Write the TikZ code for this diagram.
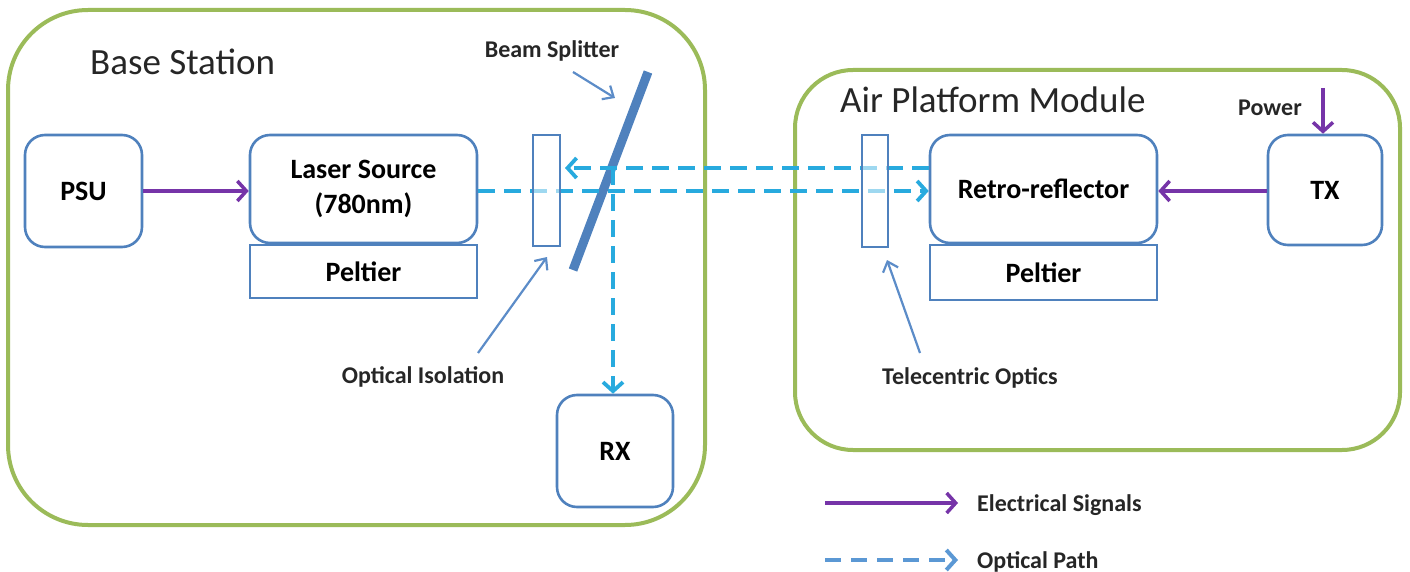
\documentclass[tikz,border=0pt]{standalone}
\usepackage{fontspec}
\setmainfont{Carlito}
\usetikzlibrary{arrows.meta}
\definecolor{gframe}{RGB}{155,187,89}
\definecolor{bblue}{RGB}{79,129,189}
\definecolor{epurple}{RGB}{118,52,168}
\definecolor{ocyan}{RGB}{40,170,222}
\definecolor{lblue}{RGB}{91,152,212}
\definecolor{pblue}{RGB}{92,140,200}
\tikzset{
  container/.style={draw=gframe, line width=4pt, rounded corners=#1, fill=none, inner sep=0pt},
  rbox/.style={draw=bblue, line width=2.6pt, rounded corners=20pt, fill=white, inner sep=0pt, align=center, font=\fontsize{28}{35}\selectfont\bfseries},
  sbox/.style={draw=bblue, line width=2.6pt, fill=white, inner sep=0pt, align=center, font=\fontsize{28}{35}\selectfont\bfseries},
  optic/.style={draw=bblue, line width=2.4pt, fill=white, fill opacity=0.55, draw opacity=1, inner sep=0pt},
  heading/.style={font=\fontsize{37}{40}\selectfont, inner sep=0pt, text=black!85},
  lbl/.style={font=\fontsize{24}{27}\selectfont\bfseries, inner sep=0pt, text=black!85},
  elec/.style={draw=epurple, line width=3.5pt, -{Straight Barb[length=9pt,width=20pt]}},
  opath/.style={draw=ocyan, line width=3.8pt, dash pattern=on 17pt off 9pt, -{Straight Barb[length=9pt,width=20pt]}},
  legopt/.style={draw=lblue, line width=4pt, dash pattern=on 16pt off 10pt, -{Straight Barb[length=9pt,width=20pt]}},
  pointer/.style={draw=pblue, line width=2.2pt, -{Straight Barb[length=9pt,width=16pt]}},
  splitter/.style={draw=bblue, line width=9pt}
}
\begin{document}
\begin{tikzpicture}[x=1pt,y=-1pt]
\useasboundingbox (0,0) rectangle (1410,572);
% containers
\node[container=80pt, minimum width=697pt, minimum height=515pt] (base) at (356.5,267.5) {};
\node[container=58pt, minimum width=605pt, minimum height=380pt] (air) at (1097.5,260) {};
\node[heading, anchor=base west] (basettl) at (90,75) {Base Station};
\node[heading, anchor=base west] (airttl) at (840,113) {Air Platform Module};
% base station boxes
\node[rbox, minimum width=117pt, minimum height=112pt] (psu) at (83.5,191) {PSU};
\node[sbox, minimum width=227pt, minimum height=53pt] (peltL) at (363.5,271.5) {Peltier};
\node[rbox, minimum width=227pt, minimum height=108pt] (laser) at (363.5,189) {Laser Source\\(780nm)};
\node[rbox, minimum width=116pt, minimum height=112pt] (rx) at (615,451) {RX};
% air module boxes
\node[sbox, minimum width=227pt, minimum height=55pt] (peltR) at (1043.5,272.5) {Peltier};
\node[rbox, minimum width=227pt, minimum height=108pt] (retro) at (1043.5,189) {Retro-reflector};
\node[rbox, minimum width=114pt, minimum height=110pt] (tx) at (1325,190) {TX};
% beam splitter
\coordinate (bsTop) at (648,72);
\coordinate (bsBot) at (573,270);
\draw[splitter] (bsTop) -- (bsBot);
% optical paths
\coordinate (lowY) at (0,191);
\coordinate (upY) at (0,168);
\coordinate (split) at (613,168);
\coordinate (isoTip) at (565,168);
\draw[opath] (laser.east |- lowY) -- (retro.west |- lowY);
\draw[opath] (retro.west |- upY) -- (isoTip);
\draw[opath] (split) -- (rx.north -| split);
% optics elements
\node[optic, minimum width=27pt, minimum height=111pt] (iso) at (546.5,190.5) {};
\node[optic, minimum width=26pt, minimum height=112pt] (tele) at (875,191) {};
% electrical
\draw[elec] (psu.east |- lowY) -- (laser.west |- lowY);
\draw[elec] (tx.west |- lowY) -- (retro.east |- lowY);
\coordinate (pwrTop) at (1323,88);
\draw[elec] (pwrTop) -- (tx.north -| pwrTop);
\node[lbl] (power) at (1270,108) {Power};
% labels and pointers
\node[lbl] (bslbl) at (552,51) {Beam Splitter};
\coordinate (bsTail) at (573,72);
\coordinate (bsTip) at (615,98);
\draw[pointer] (bsTail) -- (bsTip);
\node[lbl] (isolbl) at (423,377) {Optical Isolation};
\coordinate (isoTail) at (478,353);
\coordinate (isoPt) at (547,257);
\draw[pointer] (isoTail) -- (isoPt);
\node[lbl] (telelbl) at (970,378) {Telecentric Optics};
\coordinate (teleTail) at (920,353);
\coordinate (telePt) at (887,260);
\draw[pointer] (teleTail) -- (telePt);
% legend
\coordinate (le1) at (825,503);
\coordinate (le2) at (958,503);
\draw[elec] (le1) -- (le2);
\node[lbl, anchor=west] (leglbl1) at (977,505) {Electrical Signals};
\coordinate (lo1) at (825,560);
\coordinate (lo2) at (958,560);
\draw[legopt] (lo1) -- (lo2);
\node[lbl, anchor=west] (leglbl2) at (977,562) {Optical Path};
\end{tikzpicture}
\end{document}
